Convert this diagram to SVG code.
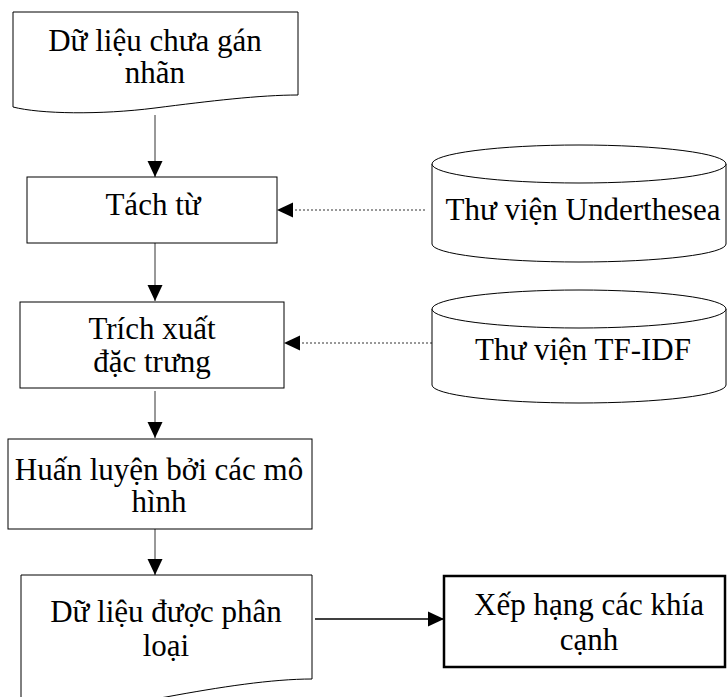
<svg xmlns="http://www.w3.org/2000/svg" width="727" height="697" viewBox="0 0 727 697">
<style>
.t{font-family:"Liberation Serif","Times New Roman",serif;font-size:31px;fill:#000;text-anchor:middle}
.shape{fill:#fff;stroke:#000;stroke-width:1}
.flow{stroke:#333;stroke-width:1;fill:none}
.dot{stroke:#333;stroke-width:1;fill:none;stroke-dasharray:2,2}
.thick{stroke:#000;stroke-width:1.6;fill:none}
</style>
<defs>
<marker id="arr" markerUnits="userSpaceOnUse" markerWidth="16" markerHeight="16" refX="16" refY="8" orient="auto">
<path d="M0,0.5 L16,8 L0,15.5 Z" fill="#000"/>
</marker>
</defs>
<rect width="727" height="697" fill="#fff"/>
<g id="connectors">
<line class="flow" x1="155" y1="115" x2="155" y2="177" marker-end="url(#arr)"/>
<line class="flow" x1="155" y1="243" x2="155" y2="301" marker-end="url(#arr)"/>
<line class="flow" x1="155" y1="391" x2="155" y2="438" marker-end="url(#arr)"/>
<line class="flow" x1="155" y1="529" x2="155" y2="575" marker-end="url(#arr)"/>
<line class="dot" x1="425" y1="210" x2="277" y2="210" marker-end="url(#arr)"/>
<line class="dot" x1="432" y1="343" x2="284" y2="343" marker-end="url(#arr)"/>
<line class="thick" x1="315" y1="619" x2="444" y2="619" marker-end="url(#arr)"/>
</g>
<g id="doc-unlabeled">
<path class="shape" d="M13,12 L298,12 L298,95 C260,95 210,101 155,108 C100,115 40,114 13,107 Z"/>
<text class="t" x="155" y="51">Dữ liệu chưa gán</text>
<text class="t" x="155" y="83">nhãn</text>
</g>
<g id="tach-tu">
<rect class="shape" x="27" y="177" width="250" height="66"/>
<text class="t" x="153" y="215">Tách từ</text>
</g>
<g id="underthesea">
<path class="shape" d="M432,164 L432,244 A147,18 0 0 0 726,244 L726,164 A147,19 0 0 0 432,164 Z"/>
<path class="shape" d="M432,164 A147,19 0 0 0 726,164"/>
<text class="t" x="583" y="220">Thư viện Underthesea</text>
</g>
<g id="trich-xuat">
<rect class="shape" x="20" y="302" width="264" height="86"/>
<text class="t" x="152" y="339">Trích xuất</text>
<text class="t" x="152" y="372">đặc trưng</text>
</g>
<g id="tfidf">
<path class="shape" d="M432,309 L432,385 A147,18 0 0 0 726,385 L726,309 A147,19 0 0 0 432,309 Z"/>
<path class="shape" d="M432,309 A147,19 0 0 0 726,309"/>
<text class="t" x="583" y="360">Thư viện TF-IDF</text>
</g>
<g id="huan-luyen">
<rect class="shape" x="8" y="439" width="304" height="90"/>
<text class="t" x="159" y="480">Huấn luyện bởi các mô</text>
<text class="t" x="159" y="512">hình</text>
</g>
<g id="doc-classified">
<path class="shape" d="M21,575 L312,575 L312,679 C272,679 220,687 166,697 C110,706 48,706 21,701 Z"/>
<text class="t" x="166" y="622">Dữ liệu được phân</text>
<text class="t" x="166" y="656">loại</text>
</g>
<g id="xep-hang">
<rect x="444" y="576" width="281" height="91" fill="#fff" stroke="#000" stroke-width="2.5"/>
<text class="t" x="589" y="615">Xếp hạng các khía</text>
<text class="t" x="589" y="650">cạnh</text>
</g>
</svg>
